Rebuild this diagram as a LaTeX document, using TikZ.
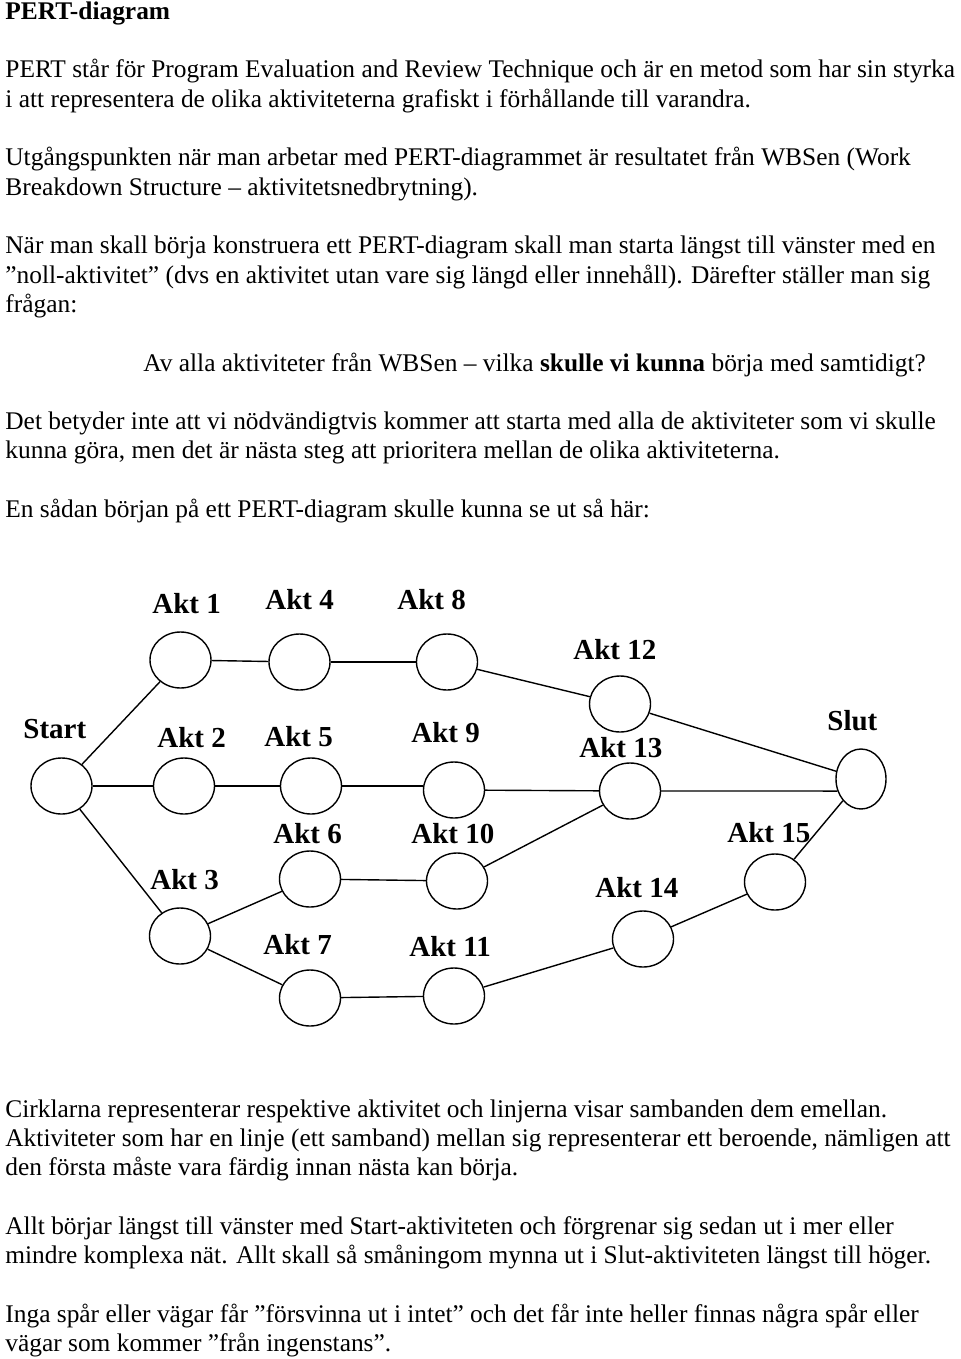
\documentclass[tikz,border=0pt]{standalone}
\usepackage{fontspec}
\setmainfont{Liberation Serif}
\usetikzlibrary{shapes.geometric}
\begin{document}
\begin{tikzpicture}[x=0.5pt,y=-0.5pt,
  body/.style={anchor=base west,inner sep=0,font=\fontsize{12.7}{15}\selectfont},
  lbl/.style={anchor=base west,inner sep=0,font=\fontsize{14.5}{17}\selectfont\bfseries},
  act/.style={draw,ellipse,minimum width=30.5pt,minimum height=28pt,inner sep=0,line width=0.7pt},
  link/.style={line width=0.7pt}]
\useasboundingbox[fill=white] (0,0) rectangle (960,1359);
% text
\node[body,font=\fontsize{12.7}{15}\selectfont\bfseries] (title) at (5,20) {PERT-diagram};
\node[body] (t1) at (5,78) {PERT står för Program Evaluation and Review Technique och är en metod som har sin styrka};
\node[body] (t2) at (5,107.3) {i att representera de olika aktiviteterna grafiskt i förhållande till varandra.};
\node[body] (t3) at (5,165.9) {Utgångspunkten när man arbetar med PERT-diagrammet är resultatet från WBSen (Work};
\node[body] (t4) at (5,195.2) {Breakdown Structure – aktivitetsnedbrytning).};
\node[body] (t5) at (5,253.8) {När man skall börja konstruera ett PERT-diagram skall man starta längst till vänster med en};
\node[body] (t6) at (5,283.1) {”noll-aktivitet” (dvs en aktivitet utan vare sig längd eller innehåll). Därefter ställer man sig};
\node[body] (t7) at (5,312.4) {frågan:};
\node[body] (t8) at (143,371) {Av alla aktiviteter från WBSen – vilka \textbf{skulle vi kunna} börja med samtidigt?};
\node[body] (t9) at (5,429.6) {Det betyder inte att vi nödvändigtvis kommer att starta med alla de aktiviteter som vi skulle};
\node[body] (t10) at (5,458.9) {kunna göra, men det är nästa steg att prioritera mellan de olika aktiviteterna.};
\node[body] (t11) at (5,517.5) {En sådan början på ett PERT-diagram skulle kunna se ut så här:};
\node[body] (t12) at (5,1117) {Cirklarna representerar respektive aktivitet och linjerna visar sambanden dem emellan.};
\node[body] (t13) at (5,1146.3) {Aktiviteter som har en linje (ett samband) mellan sig representerar ett beroende, nämligen att};
\node[body] (t14) at (5,1175.6) {den första måste vara färdig innan nästa kan börja.};
\node[body] (t15) at (5,1234.2) {Allt börjar längst till vänster med Start-aktiviteten och förgrenar sig sedan ut i mer eller};
\node[body] (t16) at (5,1263.5) {mindre komplexa nät. Allt skall så småningom mynna ut i Slut-aktiviteten längst till höger.};
\node[body] (t17) at (5,1322.1) {Inga spår eller vägar får ”försvinna ut i intet” och det får inte heller finnas några spår eller};
\node[body] (t18) at (5,1351.4) {vägar som kommer ”från ingenstans”.};
% activity nodes
\node[act] (start) at (61.5,786) {};
\node[act] (a1) at (180.5,660) {};
\node[act] (a4) at (299.5,662) {};
\node[act] (a8) at (447,662) {};
\node[act] (a12) at (620,704) {};
\node[act,minimum width=25pt,minimum height=30pt] (slut) at (861,779) {};
\node[act] (a2) at (184,786) {};
\node[act] (a5) at (311,786) {};
\node[act] (a9) at (454,790) {};
\node[act] (a13) at (630,791) {};
\node[act] (a3) at (180,936) {};
\node[act] (a6) at (310,879) {};
\node[act] (a7) at (310,998) {};
\node[act] (a10) at (457,881) {};
\node[act] (a11) at (454,996) {};
\node[act] (a14) at (643,939) {};
\node[act] (a15) at (775,882) {};
% labels
\node[lbl] (l1) at (152,613) {Akt 1};
\node[lbl] (l4) at (265,609) {Akt 4};
\node[lbl] (l8) at (397,609) {Akt 8};
\node[lbl] (l12) at (573,659) {Akt 12};
\node[lbl] (lslut) at (827,730) {Slut};
\node[lbl] (lstart) at (23,738) {Start};
\node[lbl] (l2) at (157,747) {Akt 2};
\node[lbl] (l5) at (264,746) {Akt 5};
\node[lbl] (l9) at (411,742) {Akt 9};
\node[lbl] (l13) at (579,757) {Akt 13};
\node[lbl] (l6) at (273,843) {Akt 6};
\node[lbl] (l10) at (411,843) {Akt 10};
\node[lbl] (l15) at (727,842) {Akt 15};
\node[lbl] (l3) at (150,889) {Akt 3};
\node[lbl] (l14) at (595,897) {Akt 14};
\node[lbl] (l7) at (263,954) {Akt 7};
\node[lbl] (l11) at (409,956) {Akt 11};
% connectors
\draw[link] (start) -- (a1);
\draw[link] (start) -- (a2);
\draw[link] (start) -- (a3);
\draw[link] (a1) -- (a4);
\draw[link] (a4) -- (a8);
\draw[link] (a8) -- (a12);
\draw[link] (a12) -- (slut);
\draw[link] (a2) -- (a5);
\draw[link] (a5.east) -- (a5.east -| a9.west);
\draw[link] (a9) -- (a13);
\draw[link] (a13) -- (slut.207);
\draw[link] (a3) -- (a6);
\draw[link] (a3) -- (a7);
\draw[link] (a6) -- (a10);
\draw[link] (a10) -- (a13);
\draw[link] (a7) -- (a11);
\draw[link] (a11) -- (a14);
\draw[link] (a14) -- (a15);
\draw[link] (a15) -- (slut);
\end{tikzpicture}
\end{document}
